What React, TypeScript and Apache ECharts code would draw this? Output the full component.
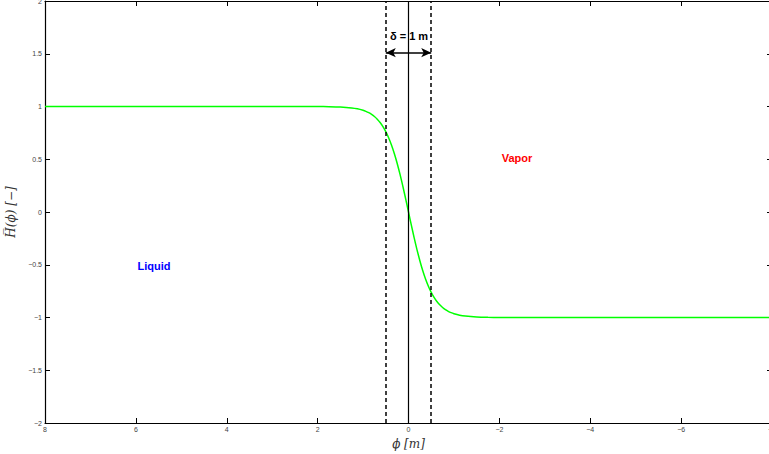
import React, { useEffect, useRef } from "react";
import * as echarts from "echarts";

// phi [m] samples and H(phi) values
const phiValues = [
  8, 4, 3, 2.5, 2, 1.75, 1.5, 1.25, 1.125, 1, 0.9375, 0.875, 0.8125, 0.75, 0.6875, 0.625, 0.5625, 0.5,
  0.4375, 0.375, 0.3125, 0.25, 0.1875, 0.125, 0.0625, 0,
  -0.0625, -0.125, -0.1875, -0.25, -0.3125, -0.375, -0.4375, -0.5, -0.5625, -0.625, -0.6875, -0.75,
  -0.8125, -0.875, -0.9375, -1, -1.125, -1.25, -1.5, -1.75, -2, -2.5, -3, -4, -8,
];
const hValues = [
  1, 1, 1, 0.9999, 0.9993, 0.9982, 0.9951, 0.9866, 0.978, 0.964, 0.9541, 0.9414, 0.9254, 0.9051, 0.88, 0.8483, 0.8096, 0.7616,
  0.7039, 0.6351, 0.5546, 0.4621, 0.3584, 0.2449, 0.1244, 0,
  -0.1244, -0.2449, -0.3584, -0.4621, -0.5546, -0.6351, -0.7039, -0.7616, -0.8096, -0.8483, -0.88, -0.9051,
  -0.9254, -0.9414, -0.9541, -0.964, -0.978, -0.9866, -0.9951, -0.9982, -0.9993, -0.9999, -1, -1, -1,
];
const interfaceLines = [0];
const thicknessLines = [0.5, -0.5];
const arrowLevel = 1.51;
const deltaLabel = "δ = 1 m";
const regionLabels = [
  { text: "Vapor", color: "#ff0000" },
  { text: "Liquid", color: "#0000ff" },
];

const fmt = (v: number) => (v < 0 ? "\u2212" + String(-v) : String(v));

export default function App() {
  const ref = useRef<HTMLDivElement>(null);
  useEffect(() => {
    if (!ref.current) return;
    const chart = echarts.init(ref.current, undefined, { renderer: "svg" });
    const labelStyle = { fontSize: 7, color: "#444", fontFamily: "Liberation Sans, Arial, sans-serif" };
    const baseX = {
      type: "value" as const,
      min: -8,
      max: 8,
      interval: 2,
      inverse: true,
      axisLine: { show: true, onZero: false, lineStyle: { color: "#000", width: 1.2 } },
      axisTick: { show: true, inside: true, length: 5, lineStyle: { color: "#000" } },
      splitLine: { show: false },
    };
    const baseY = {
      type: "value" as const,
      min: -2,
      max: 2,
      interval: 0.5,
      axisLine: { show: true, onZero: false, lineStyle: { color: "#000", width: 1.2 } },
      axisTick: { show: true, inside: true, length: 5, lineStyle: { color: "#000" } },
      splitLine: { show: false },
    };
    const data = phiValues.map((p, i) => [p, hValues[i]]);
    const textFont = "Liberation Sans, Arial, sans-serif";
    chart.setOption({
      animation: false,
      backgroundColor: "#fff",
      grid: { left: 45, width: 727, top: 1, height: 422, containLabel: false, outerBoundsMode: "none" },
      xAxis: [
        {
          ...baseX,
          position: "bottom",
          axisLabel: { ...labelStyle, margin: 3, formatter: fmt },
          name: "ϕ [m]",
          nameLocation: "middle",
          nameGap: 13,
          nameTextStyle: { fontFamily: "DejaVu Serif, serif", fontStyle: "italic", fontSize: 12, color: "#333" },
        },
        { ...baseX, position: "top", axisLabel: { show: false } },
      ],
      yAxis: [
        {
          ...baseY,
          position: "left",
          axisLabel: { ...labelStyle, margin: 3, formatter: fmt },
          name: "H\u0305(ϕ) [\u2212]",
          nameLocation: "middle",
          nameGap: 25,
          nameRotate: 90,
          nameTextStyle: { fontFamily: "DejaVu Serif, serif", fontStyle: "italic", fontSize: 12, color: "#333" },
        },
        { ...baseY, position: "right", axisLabel: { show: false } },
      ],
      series: [
        {
          type: "line",
          data,
          showSymbol: false,
          smooth: 0.2,
          lineStyle: { color: "#00ff00", width: 1.5 },
          z: 3,
          markLine: {
            silent: true,
            symbol: ["none", "none"],
            label: { show: false },
            data: [
              ...interfaceLines.map((x) => ({ xAxis: x, lineStyle: { color: "#000", width: 1.2, type: "solid" } })),
              ...thicknessLines.map((x) => ({
                xAxis: x,
                lineStyle: { color: "#000", width: 1.5, type: [4, 3] },
              })),
              [
                {
                  coord: [thicknessLines[0], arrowLevel],
                  symbol: "arrow",
                  symbolSize: [7, 10],
                  lineStyle: { color: "#000", width: 1.5, type: "solid" },
                },
                { coord: [thicknessLines[1], arrowLevel], symbol: "arrow", symbolSize: [7, 10] },
              ],
            ],
          },
        },
      ],
      graphic: [
        {
          type: "text",
          x: 409,
          y: 36,
          style: {
            text: deltaLabel,
            fontSize: 11,
            fontWeight: "bold",
            fill: "#000",
            fontFamily: textFont,
            align: "center",
            verticalAlign: "middle",
          },
        },
        {
          type: "text",
          x: 517,
          y: 158,
          style: {
            text: regionLabels[0].text,
            fontSize: 11,
            fontWeight: "bold",
            fill: regionLabels[0].color,
            fontFamily: textFont,
            align: "center",
            verticalAlign: "middle",
          },
        },
        {
          type: "text",
          x: 154,
          y: 266,
          style: {
            text: regionLabels[1].text,
            fontSize: 11,
            fontWeight: "bold",
            fill: regionLabels[1].color,
            fontFamily: textFont,
            align: "center",
            verticalAlign: "middle",
          },
        },
      ],
    });
    return () => chart.dispose();
  }, []);
  return <div ref={ref} style={{ position: "fixed", left: 0, top: 0, width: 769, height: 454 }} />;
}
